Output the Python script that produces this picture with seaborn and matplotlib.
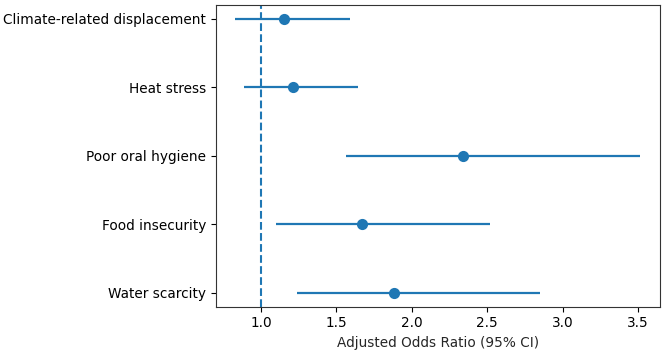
import matplotlib
matplotlib.use("Agg")
import matplotlib.pyplot as plt
import seaborn as sns
import pandas as pd

# Adjusted odds ratios with 95% CI, top to bottom
factors = ["Climate-related displacement", "Heat stress", "Poor oral hygiene",
           "Food insecurity", "Water scarcity"]
odds_ratio = [1.15, 1.21, 2.34, 1.67, 1.88]
ci_low = [0.83, 0.89, 1.56, 1.10, 1.24]
ci_high = [1.59, 1.64, 3.51, 2.52, 2.85]

df = pd.DataFrame({"factor": factors, "or": odds_ratio, "low": ci_low, "high": ci_high})

sns.set_style("ticks")
plt.rcParams.update({"font.size": 9.8, "font.family": ["DejaVu Sans"]})

fig, ax = plt.subplots(figsize=(6.66, 3.57), dpi=100)
fig.subplots_adjust(left=0.324, right=0.991, top=0.986, bottom=0.141)

ax.hlines(y=range(len(df)), xmin=df["low"], xmax=df["high"], color="C0", linewidth=1.6)
sns.pointplot(data=df, x="or", y="factor", order=factors, linestyle="none",
              color="C0", markersize=6, errorbar=None, ax=ax)
ax.axvline(1.0, color="C0", linestyle="--", linewidth=1.5)

ax.set_ylim(len(df) - 1 + 0.2, -0.2)
ax.set_xlim(0.70, 3.645)
ax.set_xticks([1.0, 1.5, 2.0, 2.5, 3.0, 3.5])
ax.set_xlabel("Adjusted Odds Ratio (95% CI)", fontsize=9.8)
ax.set_ylabel("")
for s in ax.spines.values():
    s.set_visible(True)
    s.set_color("#333333")
ax.tick_params(colors="black", labelsize=9.8)

fig.savefig("out.png", dpi=100)
